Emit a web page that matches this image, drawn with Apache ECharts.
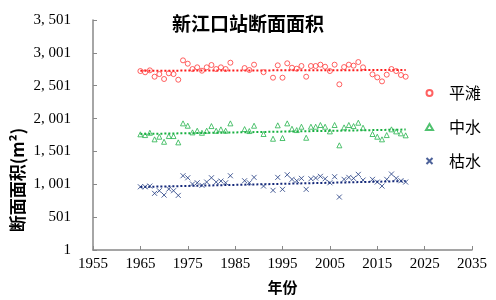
<!DOCTYPE html>
<html>
<head>
<meta charset="utf-8">
<script src="https://cdn.jsdelivr.net/npm/echarts@6/dist/echarts.min.js"></script>
<style>
html,body{margin:0;padding:0;background:#fff;}
#main{width:496px;height:300px;}
</style>
</head>
<body>
<div id="main"></div>
<script>
// 年份（缺1985,1986,1990,1992,2013）
var years=[1965,1966,1967,1968,1969,1970,1971,1972,1973,1974,1975,1976,1977,1978,1979,1980,1981,1982,1983,1984,
  1987,1988,1989,1991,
  1993,1994,1995,1996,1997,1998,1999,2000,2001,2002,2003,2004,2005,2006,2007,2008,2009,2010,2011,2012,
  2014,2015,2016,2017,2018,2019,2020,2021];
var pingtan=[2724,2705,2735,2638,2678,2603,2690,2678,2592,2887,2836,2755,2781,2729,2781,2816,2755,2781,2755,2851,
  2770,2740,2821,2707,
  2623,2811,2623,2842,2775,2760,2801,2638,2801,2801,2821,2790,2724,2821,2522,2785,2821,2806,2861,2781,
  2674,2628,2567,2669,2755,2724,2664,2638];
var zhongshui=[1761,1750,1785,1685,1725,1648,1735,1735,1639,1928,1892,1791,1816,1785,1816,1887,1816,1837,1816,1928,
  1841,1811,1892,1766,
  1694,1898,1705,1928,1846,1826,1877,1709,1877,1877,1903,1877,1806,1903,1594,1867,1903,1887,1938,1862,
  1766,1725,1685,1750,1837,1806,1776,1746];
var kushui=[963,963,974,863,903,837,928,903,832,1131,1100,1005,1024,985,1035,1100,1035,1050,1024,1131,
  1055,1024,1106,974,
  909,1106,924,1146,1076,1055,1091,924,1085,1096,1122,1085,1024,1116,807,1076,1106,1091,1152,1065,
  1076,1035,974,1076,1157,1091,1055,1035];
// 趋势线两端 [1965, 2021]
var trendYears=[1965,2021];
var trendPingtan=[2729,2740];
var trendZhongshui=[1766,1834];
var trendKushui=[960,1050];
// 刻度
var xTicks=[1955,1965,1975,1985,1995,2005,2015,2025,2035];
var yTicks=[1,501,1001,1501,2001,2501,3001,3501];

var serif='"Liberation Serif","Noto Sans CJK SC",serif';
var colors=['#ff3a3a','#25b34c','#1f3a80'];

function pairs(xs,ys){
  var out=[];
  for(var i=0;i<xs.length;i++){out.push([xs[i],ys[i]])}
  return out;
}
function fmt(v){
  if(v>=1000){return Math.floor(v/1000)+', '+String(v%1000).padStart(3,'0');}
  return String(v);
}

var myChart=echarts.init(document.getElementById('main'));
var option={
  animation:false,
  title:{
    text:'新江口站断面面积',left:'center',top:9,
    textStyle:{fontFamily:'"Noto Sans CJK SC"',fontSize:19,fontWeight:'bold',color:'#000'}
  },
  grid:{left:93,right:24,top:20,bottom:50,containLabel:false},
  legend:{
    orient:'vertical',left:420,top:80,itemWidth:7,itemHeight:6,itemGap:18,
    data:['平滩','中水','枯水'],
    textStyle:{fontFamily:'"Noto Sans CJK SC"',fontSize:16,color:'#000',padding:[0,0,0,11]}
  },
  xAxis:{
    type:'value',min:1955,max:2035,
    name:'年份',nameLocation:'middle',nameGap:30,
    nameTextStyle:{fontFamily:'"Noto Sans CJK SC"',fontSize:15,fontWeight:'bold',color:'#000'},
    axisLine:{lineStyle:{color:'#888',width:1.5}},
    axisTick:{inside:true,length:4,lineStyle:{color:'#888'},customValues:xTicks},
    axisLabel:{customValues:xTicks,margin:7,fontFamily:serif,fontSize:15,color:'#000',
      formatter:function(v){return String(v)}},
    splitLine:{show:false}
  },
  yAxis:{
    type:'value',min:1,max:3501,
    axisLine:{show:true,lineStyle:{color:'#888',width:1.5}},
    axisTick:{show:true,inside:true,length:4,lineStyle:{color:'#888'},customValues:yTicks},
    axisLabel:{customValues:yTicks,margin:22,fontFamily:serif,fontSize:15,color:'#000',formatter:fmt},
    splitLine:{show:false}
  },
  graphic:[{
    type:'text',x:18,y:180,rotation:Math.PI/2,
    style:{text:'断面面积(m²)',fontFamily:'"Noto Sans CJK SC"',fontSize:17,fontWeight:'bold',fill:'#000',
      align:'center',verticalAlign:'middle'}
  }],
  series:[
    {name:'平滩趋势',type:'line',data:pairs(trendYears,trendPingtan),symbol:'none',
      lineStyle:{color:'#ff1a1a',width:2,type:[2,2]},z:1},
    {name:'中水趋势',type:'line',data:pairs(trendYears,trendZhongshui),symbol:'none',
      lineStyle:{color:'#17b040',width:2,type:[2,2]},z:1},
    {name:'枯水趋势',type:'line',data:pairs(trendYears,trendKushui),symbol:'none',
      lineStyle:{color:'#14287a',width:2,type:[2,2]},z:1},
    {name:'平滩',type:'scatter',data:pairs(years,pingtan),symbol:'circle',symbolSize:5,
      itemStyle:{color:'rgba(255,255,255,0)',borderColor:colors[0],borderWidth:1},z:2},
    {name:'中水',type:'scatter',data:pairs(years,zhongshui),symbol:'triangle',symbolSize:5,
      itemStyle:{color:'rgba(255,255,255,0)',borderColor:colors[1],borderWidth:1},z:2},
    {name:'枯水',type:'scatter',data:pairs(years,kushui),symbol:'path://M0,0L10,10M10,0L0,10',symbolSize:5,
      itemStyle:{color:'rgba(255,255,255,0)',borderColor:colors[2],borderWidth:1},z:2}
  ]
};
myChart.setOption(option);
</script>
</body>
</html>
